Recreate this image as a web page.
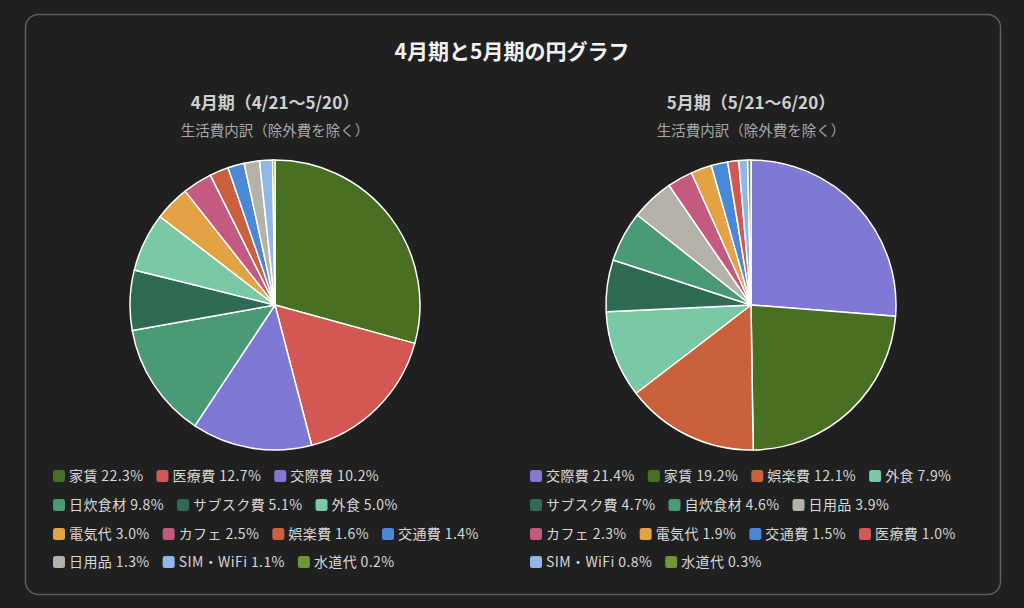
<!DOCTYPE html>
<html>
<head>
<meta charset="utf-8">
<script src="https://cdn.jsdelivr.net/npm/d3@7"></script>
<style>
  html, body { margin: 0; padding: 0; background: #202020; }
  svg { display: block; font-family: "Noto Sans CJK JP", "Noto Sans", sans-serif; }
</style>
</head>
<body>
<div id="chart"></div>
<script>
// カテゴリと色
var colors = {
  '家賃': '#486f22',
  '医療費': '#d35752',
  '交際費': '#7f78d4',
  '日炊食材': '#4a9a77',
  '自炊食材': '#4a9a77',
  'サブスク費': '#2e6b52',
  '外食': '#7ac8a6',
  '電気代': '#e3a244',
  'カフェ': '#c45a80',
  '娯楽費': '#c8613c',
  '交通費': '#4a88d8',
  '日用品': '#b5b2aa',
  'SIM・WiFi': '#8fb8e8',
  '水道代': '#6a9a30'
}

// 4月期
var aprilCategories = ['家賃', '医療費', '交際費', '日炊食材', 'サブスク費', '外食', '電気代', 'カフェ', '娯楽費', '交通費', '日用品', 'SIM・WiFi', '水道代']
var aprilValues = [22.3, 12.7, 10.2, 9.8, 5.1, 5.0, 3.0, 2.5, 1.6, 1.4, 1.3, 1.1, 0.2]

// 5月期
var mayCategories = ['交際費', '家賃', '娯楽費', '外食', 'サブスク費', '自炊食材', '日用品', 'カフェ', '電気代', '交通費', '医療費', 'SIM・WiFi', '水道代']
var mayValues = [21.4, 19.2, 12.1, 7.9, 4.7, 4.6, 3.9, 2.3, 1.9, 1.5, 1.0, 0.8, 0.3]

var width = 1024
var height = 608

var svg = d3
  .select('#chart')
  .append('svg')
  .attr('width', width)
  .attr('height', height)

// card frame
svg
  .append('rect')
  .attr('x', 25.5)
  .attr('y', 14.5)
  .attr('width', 975)
  .attr('height', 580)
  .attr('rx', 13)
  .attr('fill', '#202020')
  .attr('stroke', '#5e5e5c')
  .attr('stroke-width', 1.5)

svg
  .append('text')
  .attr('x', 512)
  .attr('y', 59)
  .attr('text-anchor', 'middle')
  .attr('fill', '#f2f2f2')
  .attr('font-size', 21)
  .attr('font-weight', 'bold')
  .text('4月期と5月期の円グラフ')

var radius = 145

var pie = d3
  .pie()
  .sort(null)
  .value(d => d.value)

var arc = d3
  .arc()
  .innerRadius(0)
  .outerRadius(radius)

var colorScale = d3
  .scaleOrdinal()
  .domain(Object.keys(colors))
  .range(Object.values(colors))

var panels = [
  { cx: 275, title: '4月期（4/21〜5/20）', categories: aprilCategories, values: aprilValues, legendX: 53 },
  { cx: 751, title: '5月期（5/21〜6/20）', categories: mayCategories, values: mayValues, legendX: 530 }
]

panels.forEach(function(p) {
  var data = p.categories.map((c, i) => ({ name: c, value: p.values[i] }))

  svg
    .append('text')
    .attr('x', p.cx)
    .attr('y', 109)
    .attr('text-anchor', 'middle')
    .attr('fill', '#d0d0d0')
    .attr('font-size', 17)
    .attr('font-weight', 'bold')
    .text(p.title)

  svg
    .append('text')
    .attr('x', p.cx)
    .attr('y', 136)
    .attr('text-anchor', 'middle')
    .attr('fill', '#a8a8a8')
    .attr('font-size', 14.5)
    .text('生活費内訳（除外費を除く）')

  var g = svg.append('g').attr('transform', `translate(${p.cx},305)`)

  g.selectAll('path')
    .data(pie(data))
    .enter()
    .append('path')
    .attr('d', d => arc(d))
    .attr('fill', d => colorScale(d.data.name))
    .attr('stroke', '#ffffff')
    .attr('stroke-width', 1.5)
    .attr('stroke-linejoin', 'round')

  // legend, flowing with wrap
  var legend = svg.append('g').attr('transform', `translate(${p.legendX},0)`)
  var maxW = 430
  var x = 0
  var row = 0
  var rowY = [476, 505, 534, 562]

  data.forEach(function(d) {
    var item = legend.append('g')
    item
      .append('rect')
      .attr('width', 12)
      .attr('height', 12)
      .attr('rx', 2.5)
      .attr('fill', colorScale(d.name))
    var t = item
      .append('text')
      .attr('x', 16)
      .attr('y', 6)
      .attr('dy', '0.36em')
      .attr('fill', '#d8d8d8')
      .attr('font-size', 14)
      .attr('letter-spacing', 0.4)
      .text(d.name + ' ' + d.value.toFixed(1) + '%')
    var w = 16 + t.node().getComputedTextLength()
    if (x > 0 && x + w > maxW) {
      x = 0
      row++
    }
    item.attr('transform', `translate(${x},${rowY[row] - 6})`)
    x += w + 13
  })
})
</script>
</body>
</html>
